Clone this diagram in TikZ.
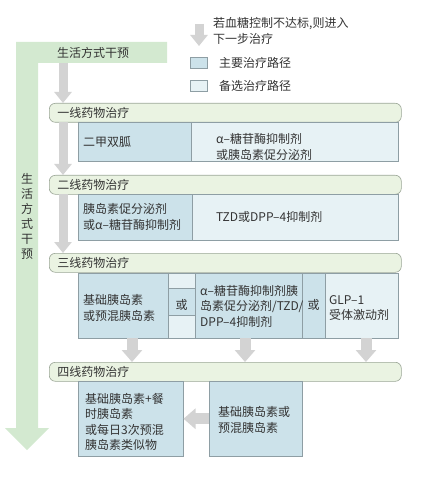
\documentclass[tikz,border=0pt]{standalone}
\usepackage{fontspec}
\setmainfont{Noto Sans CJK SC}
\usetikzlibrary{arrows.meta}
\definecolor{lgreen}{HTML}{D3E9D0}
\definecolor{hdrfill}{HTML}{EAF3E2}
\definecolor{hdrdraw}{HTML}{9AA596}
\definecolor{mainb}{HTML}{CCE2EA}
\definecolor{altb}{HTML}{E7F2F5}
\definecolor{boxdraw}{HTML}{8E9EA4}
\definecolor{garrow}{HTML}{D3D3D3}
\definecolor{txt}{HTML}{333333}
\tikzset{
  lbl/.style={anchor=west, inner sep=0pt, align=left, text=txt},
  hdr/.style={anchor=north west, draw=hdrdraw, fill=hdrfill, rounded corners=6pt, line width=0.6pt,
              minimum width=352pt, minimum height=19pt, inner xsep=0pt, inner ysep=0pt,
              text width=336pt, align=left, text=txt},
  mbox/.style={anchor=north west, draw=boxdraw, fill=mainb, line width=0.5pt, inner sep=0pt},
  abox/.style={anchor=north west, draw=boxdraw, fill=altb, line width=0.5pt, inner sep=0pt},
  garr/.style={draw=garrow, line width=9pt, -{Triangle[width=17pt,length=11pt]}},
  garrw/.style={draw=garrow, line width=11pt, -{Triangle[width=20pt,length=12pt]}},
}
\begin{document}
\begin{tikzpicture}[x=1pt,y=-1pt,font=\fontsize{12}{15.5}\selectfont]
\useasboundingbox (0,0) rectangle (438,486);
% lifestyle L-shaped arrow
\fill[lgreen] (16,42) -- (167,42) -- (167,63) -- (38,63) -- (38,428) -- (49,428) -- (27,450) -- (5,428) -- (16,428) -- cycle;
\node[lbl] (lsh) at (57,53) {生活方式干预};
\node[anchor=center, inner sep=0pt, align=center, text=txt, font=\fontsize{12}{15}\selectfont] (lsv) at (27,216) {生\\活\\方\\式\\干\\预};
\coordinate (lsbot) at (63,63);

% legend
\coordinate (lga) at (199,24);
\coordinate (lgb) at (199,46);
\draw[garr] (lga) -- (lgb);
\node[lbl] (lgt) at (213,31) {若血糖控制不达标,则进入\\下一步治疗};
\node[mbox, minimum width=17pt, minimum height=11pt] (lgm) at (190,57) {};
\node[lbl] (lgmt) at (219,63) {主要治疗路径};
\node[abox, minimum width=17pt, minimum height=11pt] (lga2) at (190,80) {};
\node[lbl] (lgat) at (219,86) {备选治疗路径};

% stage headers
\node[hdr] (h1) at (49,103) {一线药物治疗};
\node[hdr] (h2) at (49,175) {二线药物治疗};
\node[hdr] (h3) at (49,253) {三线药物治疗};
\node[hdr] (h4) at (49,362) {四线药物治疗};

% main vertical arrows
\coordinate (h1t) at (63,103);
\coordinate (h1b) at (63,122);
\coordinate (h2t) at (63,175);
\coordinate (h2b) at (63,194);
\coordinate (h3t) at (63,253);
\draw[garr] (lsbot) -- (h1t);
\draw[garr] (h1b) -- (h2t);
\draw[garr] (h2b) -- (h3t);

% first line
\node[mbox, minimum width=113pt, minimum height=39pt] (b1a) at (78,122) {};
\node[abox, minimum width=207pt, minimum height=39pt] (b1b) at (191,122) {};
\node[lbl] (t1a) at (83,142) {二甲双胍};
\node[lbl] (t1b) at (216,147) {α–糖苷酶抑制剂\\或胰岛素促分泌剂};

% second line
\node[mbox, minimum width=114pt, minimum height=46pt] (b2a) at (78,194) {};
\node[abox, minimum width=206pt, minimum height=46pt] (b2b) at (192,194) {};
\node[lbl] (t2a) at (83,217) {胰岛素促分泌剂\\或α–糖苷酶抑制剂};
\node[lbl] (t2b) at (216,217) {TZD或DPP–4抑制剂};

% third line
\node[mbox, minimum width=90pt, minimum height=65pt] (b3a) at (78,273) {};
\node[mbox, minimum width=27pt, minimum height=65pt] (b3o1) at (168,273) {};
\node[abox, minimum width=27pt, minimum height=15pt] (b3o1t) at (168,273) {};
\node[abox, minimum width=27pt, minimum height=23pt] (b3o1b) at (168,315) {};
\node[mbox, minimum width=107pt, minimum height=65pt] (b3b) at (195,273) {};
\node[mbox, minimum width=23pt, minimum height=65pt] (b3o2) at (302,273) {};
\node[abox, minimum width=73pt, minimum height=65pt] (b3c) at (325,273) {};
\node[lbl] (t3a) at (83,308) {基础胰岛素\\或预混胰岛素};
\node[anchor=center, inner sep=0pt, text=txt] (t3o1) at (181.5,305) {或};
\node[lbl] (t3b) at (200,306) {α–糖苷酶抑制剂胰\\岛素促分泌剂/TZD/\\DPP–4抑制剂};
\node[anchor=center, inner sep=0pt, text=txt] (t3o2) at (313.5,305) {或};
\node[lbl] (t3c) at (329,308) {GLP–1\\受体激动剂};

% arrows third -> fourth
\coordinate (d1a) at (132,338); \coordinate (d1b) at (132,362);
\coordinate (d2a) at (245,338); \coordinate (d2b) at (245,362);
\coordinate (d3a) at (366,338); \coordinate (d3b) at (366,362);
\draw[garrw] (d1a) -- (d1b);
\draw[garrw] (d2a) -- (d2b);
\draw[garrw] (d3a) -- (d3b);

% fourth line
\node[mbox, minimum width=105pt, minimum height=75pt] (b4a) at (78,381) {};
\node[mbox, minimum width=93pt, minimum height=75pt] (b4b) at (209,381) {};
\node[lbl] (t4a) at (85,422) {基础胰岛素+餐\\时胰岛素\\或每日3次预混\\胰岛素类似物};
\node[lbl] (t4b) at (218,420) {基础胰岛素或\\预混胰岛素};
\draw[garrw] (b4b.west) -- (b4a.east);
\end{tikzpicture}
\end{document}
